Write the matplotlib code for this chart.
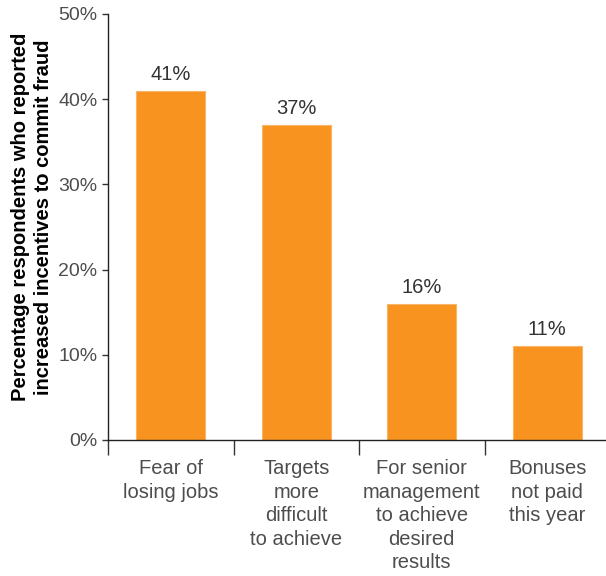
import matplotlib
matplotlib.use("Agg")
import matplotlib.pyplot as plt
import numpy as np

categories = ["Fear of\nlosing jobs", "Targets\nmore\ndifficult\nto achieve",
              "For senior\nmanagement\nto achieve\ndesired\nresults", "Bonuses\nnot paid\nthis year"]
values = [41, 37, 16, 11]
yticks = [0, 10, 20, 30, 40, 50]
ytick_labels = ["0%", "10%", "20%", "30%", "40%", "50%"]
ylabel = "Percentage respondents who reported\nincreased incentives to commit fraud"

plt.rcParams["font.family"] = ["Liberation Sans", "DejaVu Sans"]
grey = "#4d4d4d"
orange = "#F7931E"

fig = plt.figure(figsize=(6.06, 5.76), dpi=100)
ax = fig.add_axes([108/606, 1-440/576, (610-108)/606, (440-14)/576])

x = np.arange(len(values)) + 0.5
ax.bar(x, values, width=0.55, color=orange, edgecolor="#F9B46B", linewidth=0.8)
for xi, v in zip(x, values):
    ax.annotate(f"{v}%", (xi, v), xytext=(0, 5), textcoords="offset points",
                ha="center", va="bottom", fontsize=14.5, color="#333333")

ax.set_xlim(0, 4)
ax.set_ylim(0, 50)
ax.set_yticks(yticks)
ax.set_yticklabels(ytick_labels, fontsize=14, color=grey)
ax.set_xticks([0, 1, 2, 3])
ax.set_xticklabels([])
ax.set_xticks(x, minor=True)
ax.set_xticklabels(categories, minor=True, fontsize=14.5, color=grey, linespacing=1.3, va="top")
ax.tick_params(axis="x", which="major", length=11, width=1, color="#333333", direction="out")
ax.tick_params(axis="x", which="minor", length=0, pad=14)
ax.tick_params(axis="y", length=4.5, width=1, color="#333333", pad=3)

for s in ["top", "right"]:
    ax.spines[s].set_visible(False)
for s in ["left", "bottom"]:
    ax.spines[s].set_color("#222222")
    ax.spines[s].set_linewidth(1)

fig.text(32/606, 1-217/576, ylabel, rotation=90, ha="center", va="center",
         fontsize=14.5, fontweight="bold", color="black", linespacing=1.25)

fig.savefig("out.png", dpi=100)
